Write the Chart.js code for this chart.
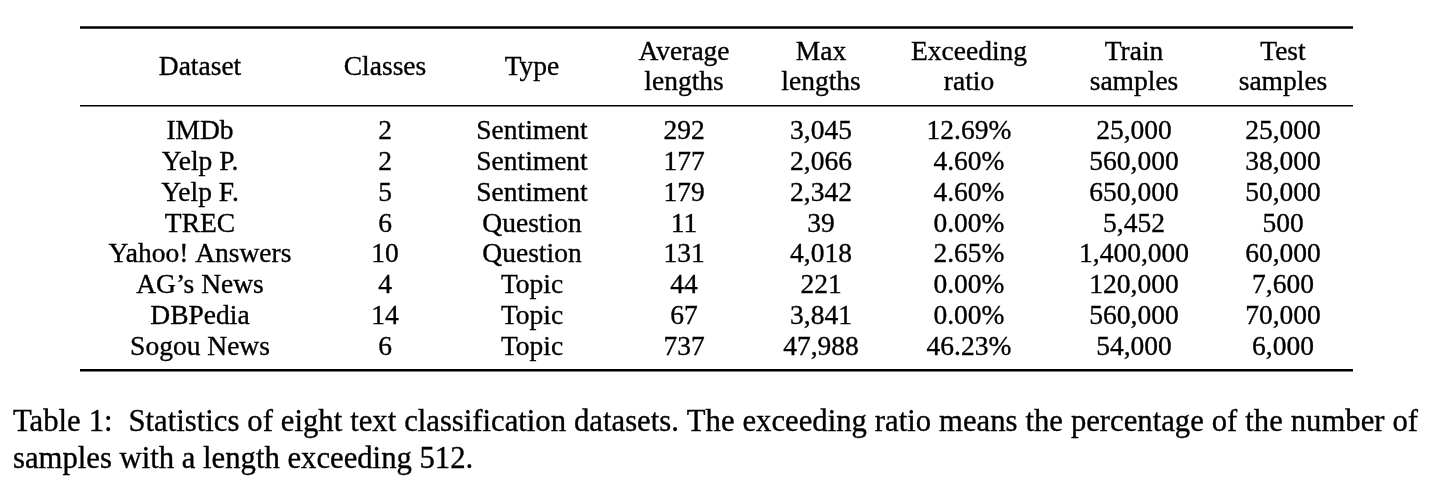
<!DOCTYPE html>
<html>
<head>
<meta charset="utf-8">
<script src="https://cdn.jsdelivr.net/npm/chart.js@4/dist/chart.umd.min.js"></script>
<style>
  html, body { margin: 0; padding: 0; background: #ffffff; }
  #wrap { width: 1439px; height: 478px; position: relative; }
</style>
</head>
<body>
<div id="wrap"><canvas id="c" width="1439" height="478"></canvas></div>
<script>
// ---------------- data ----------------
const datasetNames = ['IMDb', 'Yelp P.', 'Yelp F.', 'TREC', 'Yahoo! Answers', 'AG\u2019s News', 'DBPedia', 'Sogou News'];
const classes = [2, 2, 5, 6, 10, 4, 14, 6];
const types = ['Sentiment', 'Sentiment', 'Sentiment', 'Question', 'Question', 'Topic', 'Topic', 'Topic'];
const averageLengths = [292, 177, 179, 11, 131, 44, 67, 737];
const maxLengths = [3045, 2066, 2342, 39, 4018, 221, 3841, 47988];
const exceedingRatio = [12.69, 4.60, 4.60, 0.00, 2.65, 0.00, 0.00, 46.23];
const trainSamples = [25000, 560000, 650000, 5452, 1400000, 120000, 560000, 54000];
const testSamples = [25000, 38000, 50000, 500, 60000, 7600, 70000, 6000];
const headerLabels = [['Dataset'], ['Classes'], ['Type'], ['Average', 'lengths'], ['Max', 'lengths'],
                      ['Exceeding', 'ratio'], ['Train', 'samples'], ['Test', 'samples']];
const captionText = 'Table 1:  Statistics of eight text classification datasets. The exceeding ratio means the percentage of the number of samples with a length exceeding 512.';

// ---------------- layout (table units on hidden linear scales) ----------------
const W = 1439, H = 478;
const colCenters = [200, 385, 532, 684, 821, 969, 1134, 1283];
const ruleLeft = 80, ruleRight = 1353;
const topRuleY = 27.5, midRuleY = 105.8, bottomRuleY = 370.2;
const headerSingleBase = 75, headerLine1Base = 59.5, headerLine2Base = 90;
const firstRowBase = 139, rowStep = 30.85;
const tableFont = '27.5px "Liberation Serif", "Times New Roman", serif';
const captionFont = '30.7px "Liberation Serif", "Times New Roman", serif';
const captionLeft = 13, captionRight = 1418, captionBase1 = 430.5, captionBase2 = 467.5;
const textWeight = 0.35;

const fmtInt = v => v.toLocaleString('en-US');
const fmtPct = v => v.toFixed(2) + '%';
const columns = [
  datasetNames.map(String),
  classes.map(String),
  types.map(String),
  averageLengths.map(fmtInt),
  maxLengths.map(fmtInt),
  exceedingRatio.map(fmtPct),
  trainSamples.map(fmtInt),
  testSamples.map(fmtInt)
];

const chartDatasets = columns.map((col, c) => ({
  label: headerLabels[c].join(' '),
  data: col.map((txt, r) => ({ x: colCenters[c], y: firstRowBase + r * rowStep, text: txt })),
  pointRadius: 0,
  pointHoverRadius: 0,
  showLine: false
}));

const tablePlugin = {
  id: 'tableDraw',
  afterDatasetsDraw(chart) {
    const ctx = chart.ctx;
    const xs = chart.scales.x, ys = chart.scales.y;
    ctx.save();
    ctx.fillStyle = '#000';
    ctx.strokeStyle = '#000';
    const put = (t, x, y) => {
      ctx.fillText(t, x, y);
      ctx.lineWidth = textWeight;
      ctx.strokeText(t, x, y);
    };
    // rules
    const rule = (y, w) => {
      ctx.lineWidth = w;
      ctx.beginPath();
      ctx.moveTo(xs.getPixelForValue(ruleLeft), ys.getPixelForValue(y));
      ctx.lineTo(xs.getPixelForValue(ruleRight), ys.getPixelForValue(y));
      ctx.stroke();
    };
    rule(topRuleY, 2.4);
    rule(midRuleY, 1.6);
    rule(bottomRuleY, 2.4);

    // header
    ctx.font = tableFont;
    ctx.textAlign = 'center';
    ctx.textBaseline = 'alphabetic';
    headerLabels.forEach((lines, c) => {
      const x = xs.getPixelForValue(colCenters[c]);
      if (lines.length === 1) {
        put(lines[0], x, ys.getPixelForValue(headerSingleBase));
      } else {
        put(lines[0], x, ys.getPixelForValue(headerLine1Base));
        put(lines[1], x, ys.getPixelForValue(headerLine2Base));
      }
    });

    // cells from dataset elements
    chart.data.datasets.forEach((ds, di) => {
      const meta = chart.getDatasetMeta(di);
      meta.data.forEach((el, i) => {
        put(ds.data[i].text, el.x, el.y);
      });
    });

    // caption (justified first line)
    ctx.font = captionFont;
    ctx.textAlign = 'left';
    const words = captionText.split(/\s+/);
    const left = xs.getPixelForValue(captionLeft), right = xs.getPixelForValue(captionRight);
    const maxW = right - left;
    const spaceW = ctx.measureText(' ').width;
    let line1 = [], wsum = 0, idx = 0;
    while (idx < words.length) {
      const ww = ctx.measureText(words[idx]).width;
      const need = wsum + ww + line1.length * spaceW;
      if (need > maxW) break;
      line1.push(words[idx]); wsum += ww; idx++;
    }
    const line2 = words.slice(idx);
    const weights = line1.slice(0, -1).map((w, i) => (i === 1 ? 2 : 1));
    const totalWeight = weights.reduce((a, b) => a + b, 0);
    const gapUnit = (maxW - wsum) / totalWeight;
    let x = left;
    const y1 = ys.getPixelForValue(captionBase1);
    line1.forEach((w, i) => {
      put(w, x, y1);
      x += ctx.measureText(w).width + (i < weights.length ? weights[i] * gapUnit : 0);
    });
    put(line2.join(' '), left, ys.getPixelForValue(captionBase2));
    ctx.restore();
  }
};

new Chart(document.getElementById('c'), {
  type: 'scatter',
  data: { datasets: chartDatasets },
  options: {
    responsive: false,
    devicePixelRatio: 1,
    animation: false,
    events: [],
    layout: { padding: 0 },
    plugins: { legend: { display: false }, tooltip: { enabled: false }, title: { display: false } },
    scales: {
      x: { type: 'linear', display: false, min: 0, max: W },
      y: { type: 'linear', display: false, min: 0, max: H, reverse: true }
    }
  },
  plugins: [tablePlugin]
});
</script>
</body>
</html>
